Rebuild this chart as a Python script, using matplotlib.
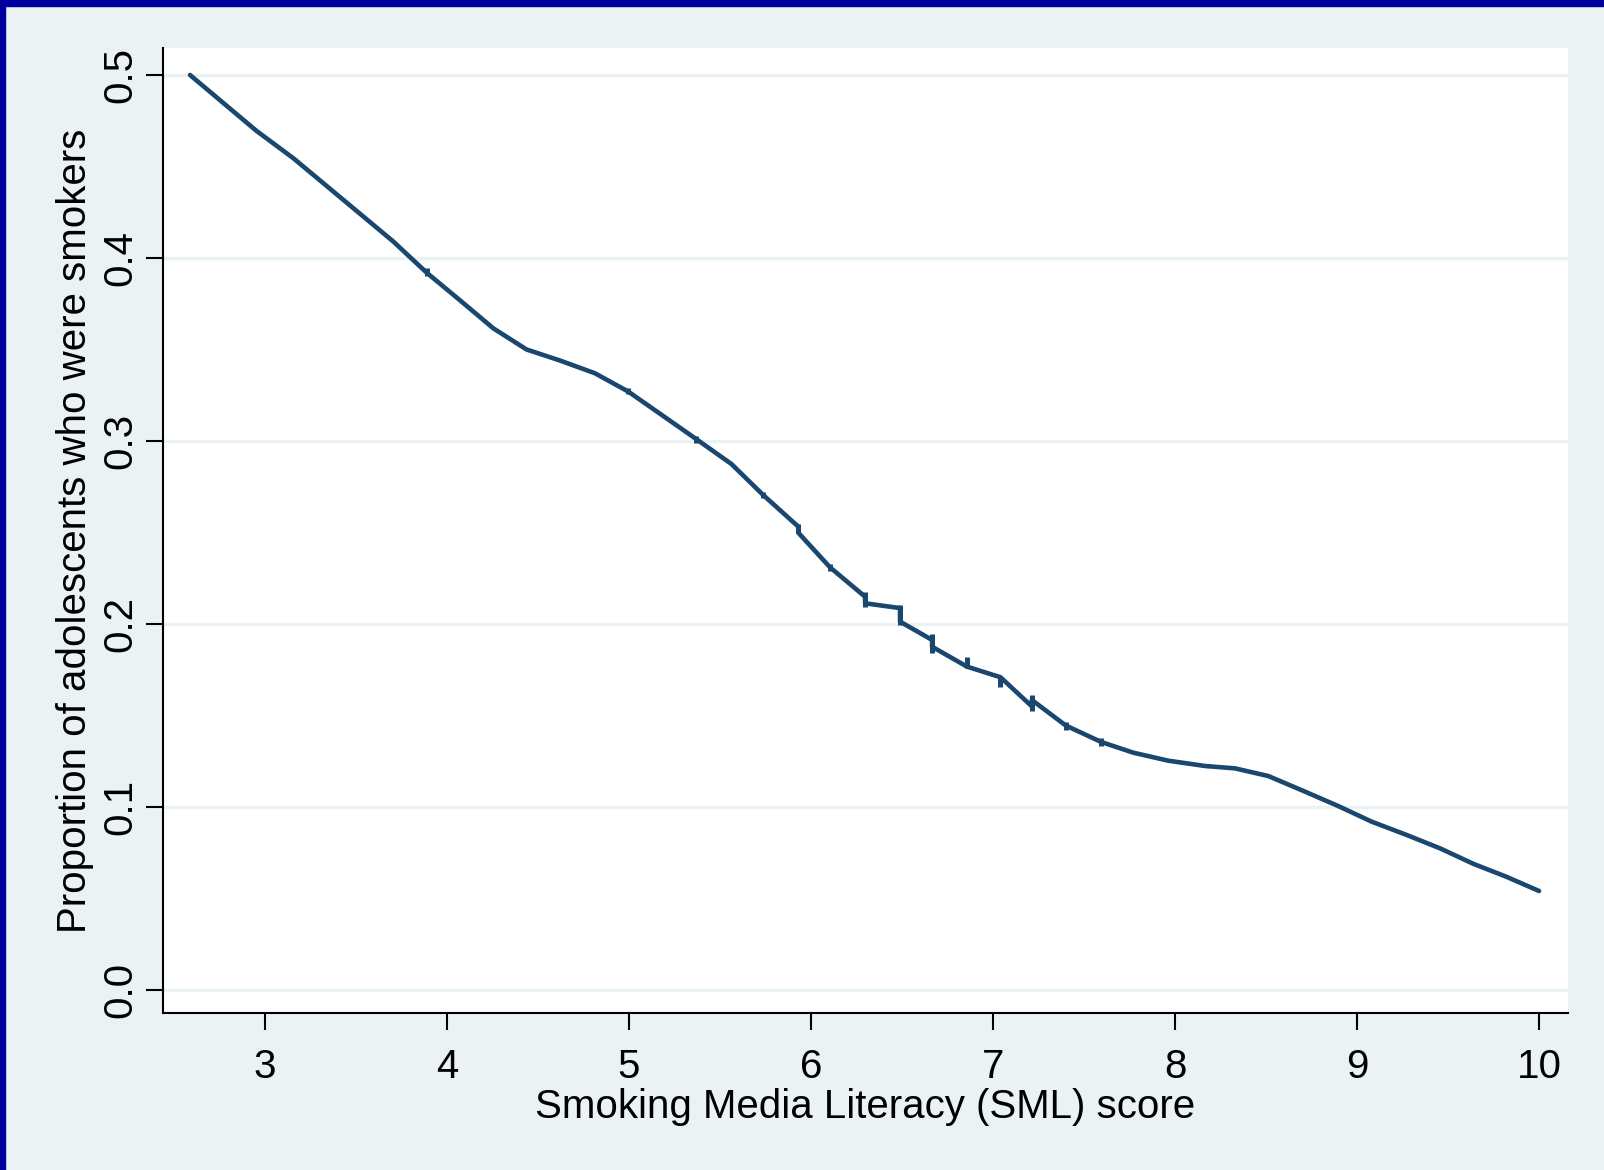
import numpy as np
import matplotlib.pyplot as plt
from matplotlib.patches import Rectangle

# ======================================================
# DATOS
# ======================================================

sml = [2.588, 2.954, 3.156, 3.705, 3.888, 4.07, 4.254, 4.437, 4.62, 4.813,
       4.996, 5.37, 5.563, 5.737, 5.93, 5.93, 6.104, 6.297, 6.297, 6.489,
       6.489, 6.665, 6.665, 6.857, 7.041, 7.213, 7.213, 7.40, 7.595, 7.77,
       7.963, 8.165, 8.33, 8.513, 8.714, 8.897, 9.08, 9.273, 9.456, 9.64,
       9.82, 10.0]

prop = [0.500, 0.4694, 0.4545, 0.409, 0.392, 0.377, 0.3616, 0.350, 0.344, 0.337,
        0.327, 0.301, 0.2874, 0.2705, 0.2532, 0.2499, 0.231, 0.2149, 0.2113, 0.2087,
        0.2013, 0.1913, 0.1876, 0.1767, 0.1709, 0.155, 0.1585, 0.1445, 0.1355, 0.1297,
        0.1253, 0.1224, 0.1211, 0.1169, 0.1084, 0.1005, 0.092, 0.0847, 0.0774, 0.0689,
        0.0619, 0.0541]

# pequenas marcas verticales sobre la curva
marca_x = [3.888, 4.996, 5.37, 5.737, 5.93, 6.104, 6.297, 6.489, 6.665, 6.857,
           7.041, 7.213, 7.40, 7.595]
marca_lo = [0.3902, 0.3255, 0.2991, 0.2687, 0.2499, 0.2291, 0.2094, 0.1995, 0.1843, 0.1758,
            0.1654, 0.1526, 0.1421, 0.1333]
marca_hi = [0.3943, 0.3288, 0.3027, 0.2723, 0.2546, 0.2326, 0.2177, 0.2104, 0.1945, 0.1818,
            0.1712, 0.1612, 0.1466, 0.1375]

xticks = [3, 4, 5, 6, 7, 8, 9, 10]
yticks = [0.0, 0.1, 0.2, 0.3, 0.4, 0.5]
yticklabels = ["0.0", "0.1", "0.2", "0.3", "0.4", "0.5"]

# ======================================================
# ESTILO
# ======================================================

plt.rcParams['font.family'] = ['Liberation Sans', 'DejaVu Sans']

fondo = "#eaf2f3"
azul = "#1a476f"
borde = "#00009e"
tam = 29

fig = plt.figure(figsize=(16.04, 11.70), dpi=100, facecolor=fondo)
ax = fig.add_axes([163/1604, 157/1170, 1405/1604, 965/1170])
ax.set_facecolor("white")

# ======================================================
# FIGURA
# ======================================================

for y in yticks:
    ax.axhline(y, color=fondo, linewidth=2.4, zorder=1)

ax.plot(sml, prop, color=azul, linewidth=3.3, solid_joinstyle="round",
        solid_capstyle="round", zorder=3)
ax.vlines(marca_x, marca_lo, marca_hi, color=azul, linewidth=3.6, zorder=3)

ax.set_xlim(2.4396, 10.159)
ax.set_ylim(-0.01257, 0.51475)

ax.set_xticks(xticks)
ax.set_yticks(yticks)
ax.set_yticklabels(yticklabels)

for lbl in ax.get_yticklabels():
    lbl.set_rotation(90)
    lbl.set_va("center")

ax.tick_params(axis="both", direction="out", length=12, width=1.5,
               labelsize=tam, color="black")
ax.tick_params(axis="x", pad=13)
ax.tick_params(axis="y", pad=5)

for lado in ["top", "right"]:
    ax.spines[lado].set_visible(False)
for lado in ["left", "bottom"]:
    ax.spines[lado].set_linewidth(1.5)

ax.set_xlabel("Smoking Media Literacy (SML) score", fontsize=tam, labelpad=2)
ax.set_ylabel("Proportion of adolescents who were smokers", fontsize=tam, labelpad=5)

# borde azul superior e izquierdo
fig.patches.append(Rectangle((0, 1 - 6/1170), 1, 6/1170, transform=fig.transFigure,
                             color=borde, zorder=10))
fig.patches.append(Rectangle((0, 0), 5/1604, 1, transform=fig.transFigure,
                             color=borde, zorder=10))

plt.savefig("out.png", dpi=100, facecolor=fondo)
